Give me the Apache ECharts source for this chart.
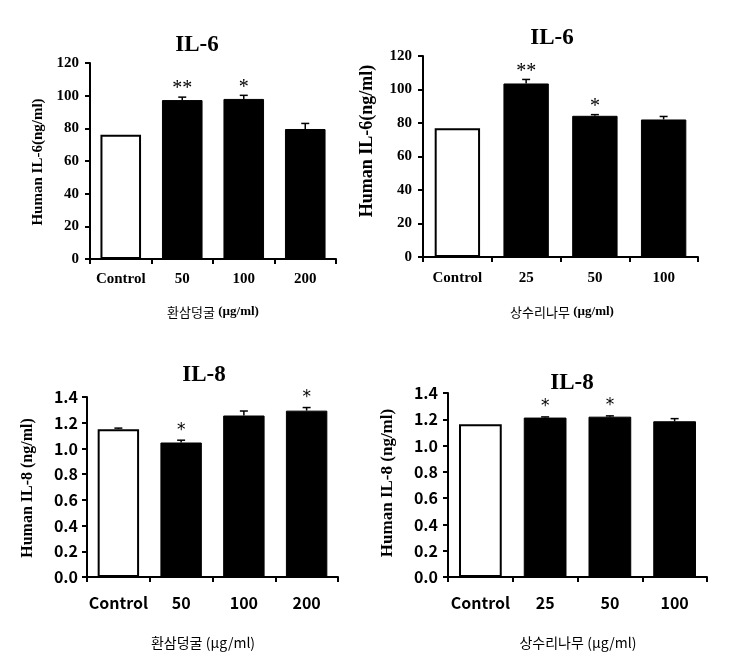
<!DOCTYPE html>
<html><head><meta charset="utf-8">
<script src="https://cdn.jsdelivr.net/npm/echarts@6/dist/echarts.min.js"></script>
<style>html,body{margin:0;padding:0;background:#fff}#c{width:735px;height:662px}</style>
</head><body><div id="c"></div>
<script>
// ---- data ----
const cats1 = ['Control', '50', '100', '200'];
const cats2 = ['Control', '25', '50', '100'];
const il6A = [76, 97.3, 98, 79.6];
const il6AErr = [0, 1.8, 2.2, 3.4];
const il6ASig = ['', '**', '*', ''];
const il6B = [76.8, 103.6, 84.3, 82.1];
const il6BErr = [0, 2.4, 0.7, 1.8];
const il6BSig = ['', '**', '*', ''];
const il8A = [1.15, 1.046, 1.256, 1.294];
const il8AErr = [0.008, 0.018, 0.035, 0.024];
const il8ASig = ['', '*', '', '*'];
const il8B = [1.162, 1.213, 1.22, 1.185];
const il8BErr = [0, 0.005, 0.006, 0.02];
const il8BSig = ['', '*', '*', ''];
const axisIL6 = {min: 0, max: 120, interval: 20};
const axisIL8 = {min: 0, max: 1.4, interval: 0.2};
const titles = ['IL-6', 'IL-6', 'IL-8', 'IL-8'];
const yNames = ['Human IL-6(ng/ml)', 'Human IL-6(ng/ml)', 'Human IL-8 (ng/ml)', 'Human IL-8 (ng/ml)'];
const xNameKo = ['환삼덩굴', '상수리나무', '환삼덩굴', '상수리나무'];
const xNameUnit = '(µg/ml)';

const SERIF = '"Liberation Serif","Times New Roman",serif';
const SANS = '"Noto Sans CJK KR","Liberation Sans",sans-serif';
const STAR = '"DejaVu Sans",sans-serif';

const panels = [
  {cats: cats1, vals: il6A, err: il6AErr, sig: il6ASig, ax: axisIL6, dec: 0,
   grid: {left: 90, top: 63, width: 246, height: 196}, tickFont: SERIF, tickSize: 15, labMargin: 13, yMargin: 11,
   title: [197, 45], yName: [38, 162, 15], xName: [213, 312], xSans: false, sigFont: SERIF, sigSize: 20, sigGap: 8},
  {cats: cats2, vals: il6B, err: il6BErr, sig: il6BSig, ax: axisIL6, dec: 0,
   grid: {left: 423, top: 56, width: 275, height: 201}, tickFont: SERIF, tickSize: 15, labMargin: 14, yMargin: 11,
   title: [552, 38], yName: [367, 141, 18], xName: [562, 312], xSans: false, sigFont: SERIF, sigSize: 20, sigGap: 8},
  {cats: cats1, vals: il8A, err: il8AErr, sig: il8ASig, ax: axisIL8, dec: 1,
   grid: {left: 87, top: 397, width: 251, height: 180}, tickFont: SANS, tickSize: 16, labMargin: 18, yMargin: 9,
   title: [204, 375], yName: [28, 488, 16], xName: [203, 643], xSans: true, sigFont: STAR, sigSize: 17, sigGap: 10},
  {cats: cats2, vals: il8B, err: il8BErr, sig: il8BSig, ax: axisIL8, dec: 1,
   grid: {left: 448, top: 393, width: 259, height: 184}, tickFont: SANS, tickSize: 16, labMargin: 18, yMargin: 10,
   title: [572, 383], yName: [388, 483, 17], xName: [578, 643], xSans: true, sigFont: STAR, sigSize: 17, sigGap: 10}
];

const grid = [], xAxis = [], yAxis = [], series = [], graphic = [];
panels.forEach((p, i) => {
  grid.push(p.grid);
  xAxis.push({
    type: 'category', gridIndex: i, data: p.cats,
    axisLine: {lineStyle: {color: '#000', width: 2}},
    axisTick: {show: true, length: 5, lineStyle: {color: '#000', width: 2}},
    axisLabel: {color: '#000', fontFamily: p.tickFont, fontWeight: 'bold', fontSize: p.tickSize, margin: p.labMargin,
      interval: 0, hideOverlap: false}
  });
  yAxis.push({
    type: 'value', gridIndex: i, min: p.ax.min, max: p.ax.max, interval: p.ax.interval,
    splitLine: {show: false},
    axisLine: {show: true, lineStyle: {color: '#000', width: 2}},
    axisTick: {show: true, length: 5, lineStyle: {color: '#000', width: 2}},
    axisLabel: {color: '#000', fontFamily: p.tickFont, fontWeight: 'bold', fontSize: p.tickSize, margin: p.yMargin,
      formatter: v => v.toFixed(p.dec)}
  });
  series.push({
    type: 'bar', xAxisIndex: i, yAxisIndex: i, barWidth: '66%',
    data: p.vals.map((v, k) => ({value: v, itemStyle: k === 0
      ? {color: '#fff', borderColor: '#000', borderWidth: 2}
      : {color: '#000', borderColor: '#000', borderWidth: 1}})),
    silent: true, animation: false
  });
  series.push({
    type: 'custom', xAxisIndex: i, yAxisIndex: i, silent: true, animation: false, z: 5,
    data: p.vals.map((v, k) => [k, v, p.err[k]]),
    renderItem: (params, api) => {
      const x = api.value(0), m = api.value(1), e = api.value(2);
      const base = api.coord([x, m]);
      const top = api.coord([x, m + e]);
      const children = [];
      if (e > 0) {
        children.push({type: 'line', shape: {x1: base[0], y1: base[1], x2: top[0], y2: top[1]}, style: {stroke: '#000', lineWidth: 1.5}});
        children.push({type: 'line', shape: {x1: top[0] - 4, y1: top[1], x2: top[0] + 4, y2: top[1]}, style: {stroke: '#000', lineWidth: 1.5}});
      }
      const s = p.sig[params.dataIndex];
      if (s) {
        children.push({type: 'text', x: top[0], y: top[1] - p.sigGap,
          style: {text: s, fill: '#000', font: p.sigSize + 'px ' + p.sigFont, align: 'center', verticalAlign: 'middle'}});
      }
      return {type: 'group', children};
    }
  });
  graphic.push({type: 'text', x: p.title[0], y: p.title[1],
    style: {text: titles[i], fill: '#000', font: 'bold 23px ' + SERIF, align: 'center', verticalAlign: 'middle'}});
  graphic.push({type: 'text', x: p.yName[0], y: p.yName[1], rotation: Math.PI / 2,
    style: {text: yNames[i], fill: '#000', font: 'bold ' + p.yName[2] + 'px ' + SERIF, align: 'center', verticalAlign: 'middle'}});
  graphic.push({type: 'text', x: p.xName[0], y: p.xName[1],
    style: {
      text: '{k|' + xNameKo[i] + '} {u|' + xNameUnit + '}', align: 'center', verticalAlign: 'middle',
      rich: {
        k: {fontFamily: SANS, fontSize: p.xSans ? 14 : 13, fill: '#000', fontWeight: 'normal'},
        u: p.xSans ? {fontFamily: SANS, fontSize: 14, fill: '#000'} : {fontFamily: SERIF, fontSize: 13, fontWeight: 'bold', fill: '#000'}
      }
    }});
});

const chart = echarts.init(document.getElementById('c'), null, {renderer: 'canvas'});
chart.setOption({backgroundColor: '#fff', animation: false, grid, xAxis, yAxis, series, graphic});
</script>
</body></html>
